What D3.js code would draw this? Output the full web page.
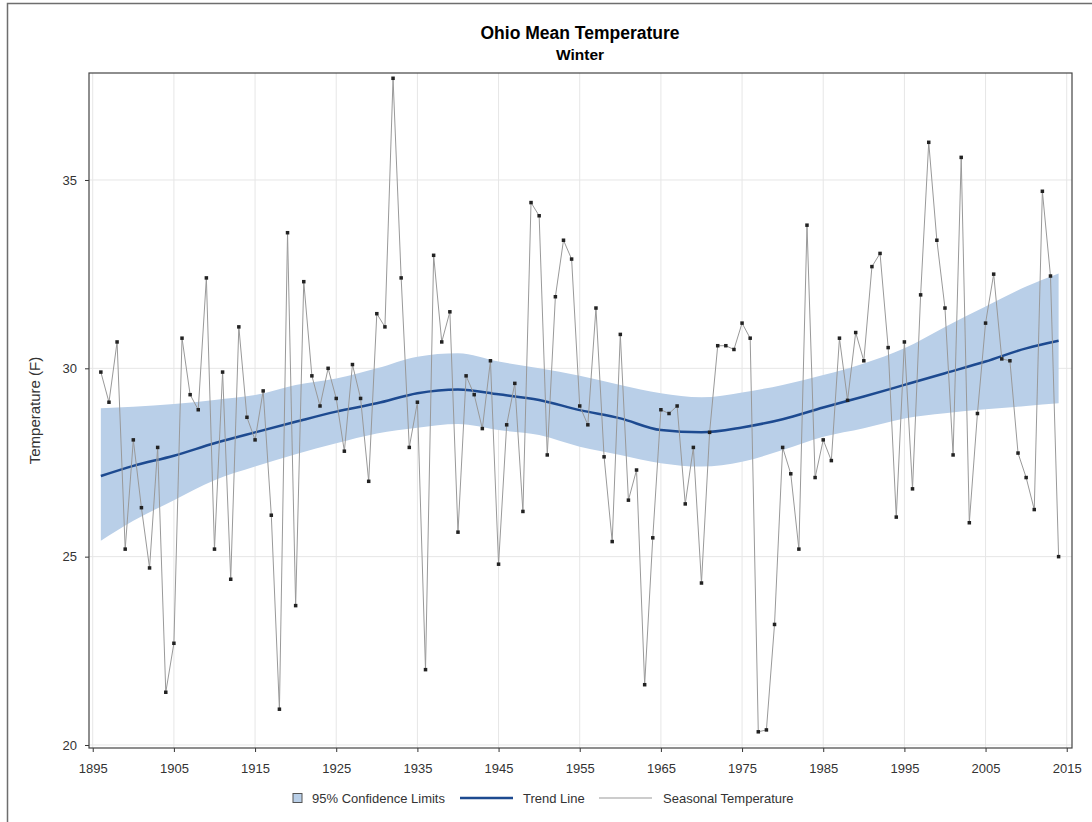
<!DOCTYPE html>
<html>
<head>
<meta charset="utf-8">
<script src="https://cdn.jsdelivr.net/npm/d3@7"></script>
<style>
    body { margin: 0; background: #fff; }
</style>
</head>
<body>
<div id="container"></div>
<script>
const margin = ({top: 73, right: 20, bottom: 74, left: 89})
const width = 1092,
    height = 822;

// Seasonal (winter) mean temperature, one value per year 1896..2014
const firstYear = 1896;
const seasonal = [
    29.9, 29.1, 30.7, 25.2, 28.1, 26.3, 24.7, 27.9, 21.4, 22.7,   // 1896-1905
    30.8, 29.3, 28.9, 32.4, 25.2, 29.9, 24.4, 31.1, 28.7, 28.1,   // 1906-1915
    29.4, 26.1, 20.95, 33.6, 23.7, 32.3, 29.8, 29.0, 30.0, 29.2,  // 1916-1925
    27.8, 30.1, 29.2, 27.0, 31.45, 31.1, 37.7, 32.4, 27.9, 29.1,  // 1926-1935
    22.0, 33.0, 30.7, 31.5, 25.65, 29.8, 29.3, 28.4, 30.2, 24.8,  // 1936-1945
    28.5, 29.6, 26.2, 34.4, 34.05, 27.7, 31.9, 33.4, 32.9, 29.0,  // 1946-1955
    28.5, 31.6, 27.65, 25.4, 30.9, 26.5, 27.3, 21.6, 25.5, 28.9,  // 1956-1965
    28.8, 29.0, 26.4, 27.9, 24.3, 28.3, 30.6, 30.6, 30.5, 31.2,   // 1966-1975
    30.8, 20.35, 20.4, 23.2, 27.9, 27.2, 25.2, 33.8, 27.1, 28.1,  // 1976-1985
    27.55, 30.8, 29.15, 30.95, 30.2, 32.7, 33.05, 30.55, 26.05, 30.7, // 1986-1995
    26.8, 31.95, 36.0, 33.4, 31.6, 27.7, 35.6, 25.9, 28.8, 31.2,  // 1996-2005
    32.5, 30.25, 30.2, 27.75, 27.1, 26.25, 34.7, 32.45, 25.0      // 2006-2014
];

// Trend line and 95% limits, read at these years
const trendYears = [1896, 1900, 1905, 1910, 1915, 1920, 1925, 1930, 1935, 1940, 1945, 1950, 1955,
    1960, 1965, 1970, 1975, 1980, 1985, 1990, 1995, 2000, 2005, 2010, 2014];
const trend = [27.14, 27.41, 27.68, 28.01, 28.30, 28.58, 28.85, 29.07, 29.34, 29.44, 29.31, 29.16, 28.89,
    28.67, 28.36, 28.30, 28.43, 28.65, 28.96, 29.25, 29.56, 29.87, 30.18, 30.53, 30.73];
const upper = [28.94, 28.98, 29.05, 29.16, 29.29, 29.56, 29.73, 30.0, 30.31, 30.40, 30.18, 30.0, 29.80,
    29.56, 29.34, 29.23, 29.36, 29.56, 29.82, 30.13, 30.53, 31.10, 31.64, 32.17, 32.52];
const lower = [25.42, 25.95, 26.50, 27.03, 27.39, 27.72, 28.01, 28.27, 28.42, 28.52, 28.36, 28.23, 27.92,
    27.70, 27.48, 27.39, 27.52, 27.83, 28.18, 28.41, 28.67, 28.81, 28.91, 29.00, 29.07];

const xTicks = [1895, 1905, 1915, 1925, 1935, 1945, 1955, 1965, 1975, 1985, 1995, 2005, 2015];
const yTicks = [20, 25, 30, 35];
const legendKeys = ['95% Confidence Limits', 'Trend Line', 'Seasonal Temperature'];

const font = "'Liberation Sans', Arial, sans-serif";

let svg = d3.select("#container").append("svg")
    .attr("width", width)
    .attr("height", height)
    .attr("font-family", font);

// outer border of the graph
svg.append("rect")
    .attr("x", 7.5).attr("y", 3.5)
    .attr("width", width).attr("height", height)
    .attr("fill", "none")
    .attr("stroke", "#6e6e6e")
    .attr("stroke-width", 1.5);

const x = d3.scaleLinear()
    .domain([1894.54, 2015.65])
    .range([margin.left, width - margin.right]);
const y = d3.scaleLinear()
    .domain([19.92, 37.84])
    .range([height - margin.bottom, margin.top]);

// Grid lines
svg.append("g")
    .selectAll("line")
    .data(xTicks)
    .join("line")
    .attr("x1", d => x(d)).attr("x2", d => x(d))
    .attr("y1", margin.top).attr("y2", height - margin.bottom)
    .attr("stroke", "#e6e6e6");
svg.append("g")
    .selectAll("line")
    .data(yTicks)
    .join("line")
    .attr("x1", margin.left).attr("x2", width - margin.right)
    .attr("y1", d => y(d)).attr("y2", d => y(d))
    .attr("stroke", "#e6e6e6");

// Confidence band
const bandData = trendYears.map((yr, i) => ({year: yr, lo: lower[i], hi: upper[i], fit: trend[i]}));
const area = d3.area()
    .x(d => x(d.year))
    .y0(d => y(d.lo))
    .y1(d => y(d.hi))
    .curve(d3.curveMonotoneX);
svg.append("path")
    .datum(bandData)
    .attr("fill", "#b9cfe8")
    .attr("d", area);

// Trend line
const fitLine = d3.line()
    .x(d => x(d.year))
    .y(d => y(d.fit))
    .curve(d3.curveMonotoneX);
svg.append("path")
    .datum(bandData)
    .attr("fill", "none")
    .attr("stroke", "#1d4a90")
    .attr("stroke-width", 2.5)
    .attr("d", fitLine);

// Seasonal temperature series
const data = seasonal.map((v, i) => ({year: firstYear + i, temp: v}));
const line = d3.line()
    .x(d => x(d.year))
    .y(d => y(d.temp));
svg.append("path")
    .datum(data)
    .attr("fill", "none")
    .attr("stroke", "#999")
    .attr("stroke-width", 1)
    .attr("d", line);
svg.append("g")
    .selectAll("rect")
    .data(data)
    .join("rect")
    .attr("x", d => x(d.year) - 1.75)
    .attr("y", d => y(d.temp) - 1.75)
    .attr("width", 3.5)
    .attr("height", 3.5)
    .attr("fill", "#222");

// Axes
const gx = svg.append("g")
    .attr("transform", `translate(0,${height - margin.bottom})`)
    .call(d3.axisBottom(x).tickValues(xTicks).tickFormat(d3.format("d")).tickSize(4).tickPadding(12).tickSizeOuter(0));
const gy = svg.append("g")
    .attr("transform", `translate(${margin.left},0)`)
    .call(d3.axisLeft(y).tickValues(yTicks).tickSize(4).tickPadding(8).tickSizeOuter(0));
for (let g of [gx, gy]) {
    g.select(".domain").remove();
    g.selectAll("text").attr("font-size", 13).attr("font-family", font).attr("fill", "#333");
    g.selectAll("line").attr("stroke", "#333");
}

// Frame
svg.append("rect")
    .attr("x", margin.left).attr("y", margin.top)
    .attr("width", width - margin.left - margin.right)
    .attr("height", height - margin.top - margin.bottom)
    .attr("fill", "none")
    .attr("stroke", "#444")
    .attr("stroke-width", 1.2);

// Titles
svg.append("text")
    .attr("x", 580).attr("y", 39)
    .attr("text-anchor", "middle")
    .attr("font-weight", "bold")
    .attr("font-size", 17.5)
    .attr("fill", "#000")
    .text("Ohio Mean Temperature");
svg.append("text")
    .attr("x", 580).attr("y", 60)
    .attr("text-anchor", "middle")
    .attr("font-weight", "bold")
    .attr("font-size", 15.5)
    .attr("fill", "#000")
    .text("Winter");

// Y axis label
svg.append("text")
    .attr("transform", `translate(40,${(margin.top + height - margin.bottom) / 2}) rotate(-90)`)
    .attr("text-anchor", "middle")
    .attr("font-size", 15)
    .attr("fill", "#333")
    .text("Temperature (F)");

// Legend (placed by hand, like the original)
const ly = 798;
let legend = svg.append("g").attr("font-size", 13).attr("fill", "#333");
legend.append("rect")
    .attr("x", 293).attr("y", ly - 4.5)
    .attr("width", 9).attr("height", 9)
    .attr("fill", "#b9cfe8")
    .attr("stroke", "#555");
legend.append("line")
    .attr("x1", 460).attr("x2", 513).attr("y1", ly).attr("y2", ly)
    .attr("stroke", "#1d4a90").attr("stroke-width", 2.5);
legend.append("line")
    .attr("x1", 599).attr("x2", 652).attr("y1", ly).attr("y2", ly)
    .attr("stroke", "#999").attr("stroke-width", 1);
legend.selectAll("text")
    .data(legendKeys)
    .join("text")
    .attr("x", (d, i) => [312, 523, 663][i])
    .attr("y", ly)
    .attr("dy", "0.35em")
    .text(d => d);
</script>
</body>
</html>
